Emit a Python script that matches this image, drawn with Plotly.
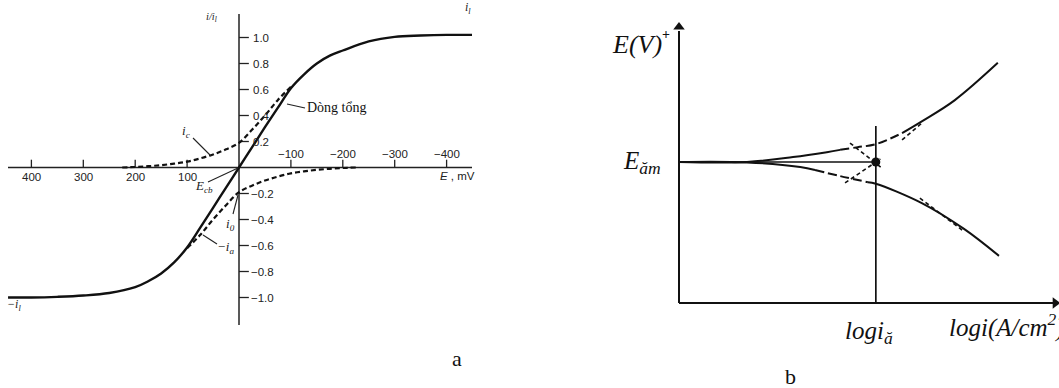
import plotly.graph_objects as go

# ---------------- Panel a data (E in mV, i/i_l) ----------------
E_total = [445, 400, 350, 300, 250, 200, 175, 150, 125, 100, 75, 50, 25, 0,
           -25, -50, -75, -100, -125, -150, -175, -200, -250, -300, -350, -400, -449]
I_total = [-1.00, -1.00, -0.995, -0.985, -0.965, -0.92, -0.875, -0.815, -0.73, -0.615, -0.465, -0.31, -0.155, 0.0,
           0.155, 0.31, 0.46, 0.61, 0.715, 0.80, 0.86, 0.90, 0.97, 1.005, 1.015, 1.02, 1.02]

E_ic = [225, 200, 175, 150, 125, 100, 75, 50, 25, 0, -25, -50, -75, -100]
I_ic = [0.0, 0.004, 0.01, 0.018, 0.03, 0.045, 0.07, 0.10, 0.14, 0.19, 0.29, 0.40, 0.52, 0.62]

E_ia = [-225, -200, -175, -150, -125, -100, -75, -50, -25, 0, 25, 50, 75, 100]
I_ia = [0.0, -0.004, -0.01, -0.018, -0.03, -0.045, -0.07, -0.10, -0.14, -0.19, -0.29, -0.40, -0.52, -0.62]

x_ticks = [400, 300, 200, 100, -100, -200, -300, -400]
x_tick_labels = ["400", "300", "200", "100", "−100", "−200", "−300", "−400"]
y_ticks = [1.0, 0.8, 0.6, 0.4, 0.2, -0.2, -0.4, -0.6, -0.8, -1.0]
y_tick_labels = ["1.0", "0.8", "0.6", "0.4", "0.2", "−0.2", "−0.4", "−0.6", "−0.8", "−1.0"]

# ---------------- Panel b data (log i, E) ----------------
logi_up = [0, 1.79, 3.0, 3.89, 4.24, 4.7, 5.18, 5.87, 6.39, 7.26, 8.39]
E_up = [3.71, 3.71, 3.84, 3.97, 4.03, 4.10, 4.18, 4.47, 4.78, 5.34, 6.32]
logi_lo = [0, 1.79, 3.19, 3.58, 4.24, 4.97, 5.18, 6.39, 7.5, 8.42]
E_lo = [3.71, 3.70, 3.58, 3.50, 3.34, 3.18, 3.14, 2.63, 1.95, 1.24]
tafA_near_x = [4.37, 5.3]; tafA_near_y = [3.16, 3.79]
tafA_tan_x = [5.87, 6.42]; tafA_tan_y = [4.29, 4.76]
tafB_near_x = [4.5, 5.34]; tafB_near_y = [4.21, 3.55]
tafB_tan_x = [6.34, 7.45]; tafB_tan_y = [2.76, 1.92]
logi_corr = 5.18
E_corr = 3.71
logi_max = 10.0
E_axis_top = 7.26

W, H = 1059, 388
fig = go.Figure()
BLACK = "#111111"

def px_a(x):  # pixel -> E (mV) for panel a
    return (239 - x) / 0.519

def py_a(y):  # pixel -> i/il
    return (167.5 - y) / 130.0

def px_b(x):
    return (x - 679) / 38.0

def py_b(y):
    return (303 - y) / 38.0

A = dict(xaxis="x", yaxis="y")
B = dict(xaxis="x2", yaxis="y2")

def line(x, y, ax, width=1.5, dash="solid", shape="linear", color=BLACK):
    fig.add_trace(go.Scatter(x=x, y=y, mode="lines", hoverinfo="skip", showlegend=False,
                             line=dict(color=color, width=width, dash=dash, shape=shape), **ax))

# ---- panel a axes ----
line([px_a(8), px_a(472)], [0, 0], A, width=1.5, color="#222")
line([0, 0], [py_a(14), py_a(325)], A, width=1.5, color="#222")
for t in x_ticks:
    line([t, t], [0, 0.06], A, width=1.3, color="#222")
for t in y_ticks:
    line([0, -19], [t, t], A, width=1.3, color="#222")

# ---- panel a curves ----
line(E_total, I_total, A, width=2.4, shape="spline")
line(E_ic, I_ic, A, width=2.2, dash="5px,3px", shape="spline")
line(E_ia, I_ia, A, width=2.2, dash="5px,3px", shape="spline")

leaders = [((287, 104), (305, 108)), ((193, 138), (211, 156)), ((208, 182), (238, 168)),
           ((233, 214), (238, 195)), ((203, 235), (217, 244))]
for (x0, y0), (x1, y1) in leaders:
    line([px_a(x0), px_a(x1)], [py_a(y0), py_a(y1)], A, width=1.1, color="#222")

ann = []
def text_a(t, x, y, size=11.5, family="Liberation Sans, Arial", color="#222", xanchor="center"):
    ann.append(dict(text=t, x=px_a(x), y=py_a(y), xref="x", yref="y", showarrow=False,
                    xanchor=xanchor, yanchor="middle", font=dict(size=size, family=family, color=color)))

for t, lab in zip(x_ticks, x_tick_labels):
    px = 239 - t * 0.519
    text_a(lab, px, 177 if t > 0 else 154)
for t, lab in zip(y_ticks, y_tick_labels):
    text_a(lab, 249 if t < 0 else 251, 167.5 - t * 130, xanchor="left")

SERIF = "Liberation Serif, Times New Roman"
text_a("<i>i/i<sub>l</sub></i>", 211, 17, size=10.5, family=SERIF)
text_a("<i>i<sub>l</sub></i>", 468, 8, size=12, family=SERIF)
text_a("<i>−i<sub>l</sub></i>", 14, 305, size=12, family=SERIF)
text_a("Dòng tổng", 337, 107, size=14, family=SERIF, color=BLACK)
text_a("<i>i<sub>c</sub></i>", 186, 131, size=13, family=SERIF)
text_a("<i>E<sub>cb</sub></i>", 204, 186, size=13, family=SERIF)
text_a("<i>i<sub>0</sub></i>", 230, 224, size=13, family=SERIF)
text_a("<i>−i<sub>a</sub></i>", 225, 247, size=13, family=SERIF)
text_a("<i>E</i> , mV", 457, 176, size=11.5)
text_a("a", 457, 358, size=22, family=SERIF, color=BLACK)

# ---- panel b ----
line([0, 0], [0, E_axis_top - 0.1], B, width=2.0)
line([0, logi_max - 0.15], [0, 0], B, width=2.0)
fig.add_trace(go.Scatter(x=[0], y=[E_axis_top], mode="markers", hoverinfo="skip", showlegend=False,
                         marker=dict(symbol="triangle-up", size=10, color=BLACK), **B))
fig.add_trace(go.Scatter(x=[logi_max - 0.1], y=[0], mode="markers", hoverinfo="skip", showlegend=False,
                         marker=dict(symbol="triangle-right", size=10, color=BLACK), **B))
line([0, logi_corr], [E_corr, E_corr], B, width=1.7)
line([logi_corr, logi_corr], [0, py_b(126)], B, width=1.7)

line(logi_up[0:5], E_up[0:5], B, width=2.0, shape="spline")
line(logi_up[4:8], E_up[4:8], B, width=2.0, dash="9px,4px", shape="spline")
line(logi_up[7:], E_up[7:], B, width=2.0, shape="spline")
line(logi_lo[0:4], E_lo[0:4], B, width=2.0, shape="spline")
line(logi_lo[3:6], E_lo[3:6], B, width=2.0, dash="9px,4px", shape="spline")
line(logi_lo[5:], E_lo[5:], B, width=2.0, shape="spline")

for xs, ys in [(tafA_near_x, tafA_near_y), (tafA_tan_x, tafA_tan_y),
               (tafB_near_x, tafB_near_y), (tafB_tan_x, tafB_tan_y)]:
    line(xs, ys, B, width=1.6, dash="4px,3px")

fig.add_trace(go.Scatter(x=[logi_corr], y=[E_corr], mode="markers", hoverinfo="skip", showlegend=False,
                         marker=dict(size=9, color=BLACK), **B))

def text_b(t, x, y, size=25, xanchor="center"):
    ann.append(dict(text=t, x=px_b(x), y=py_b(y), xref="x2", yref="y2", showarrow=False,
                    xanchor=xanchor, yanchor="middle", font=dict(size=size, family=SERIF, color=BLACK)))

text_b("<i>E(V)</i>", 637, 44, size=26)
text_b("<b>+</b>", 666, 34, size=14)
text_b("<i>E<sub>ăm</sub></i>", 642, 162)
text_b("<i>logi<sub>ă</sub></i>", 869, 332)
text_b("<i>logi(A/cm<sup>2</sup>)</i>", 947, 325, xanchor="left")
text_b("b", 790, 376, size=22)

fig.update_layout(
    width=W, height=H, margin=dict(l=0, r=0, t=0, b=0),
    paper_bgcolor="white", plot_bgcolor="white", annotations=ann,
    xaxis=dict(domain=[0, 0.5], range=[px_a(0), px_a(W * 0.5)], visible=False, fixedrange=True),
    yaxis=dict(domain=[0, 1], range=[py_a(H), py_a(0)], visible=False, fixedrange=True),
    xaxis2=dict(domain=[560 / W, 1], range=[px_b(560), px_b(W)], visible=False, fixedrange=True),
    yaxis2=dict(domain=[0, 1], range=[py_b(H), py_b(0)], visible=False, fixedrange=True, anchor="x2"),
)
fig.write_html("out.html", config={"displayModeBar": False, "staticPlot": True},
               post_script="document.body.style.margin='0';document.body.style.padding='0';document.body.style.overflow='hidden';")
